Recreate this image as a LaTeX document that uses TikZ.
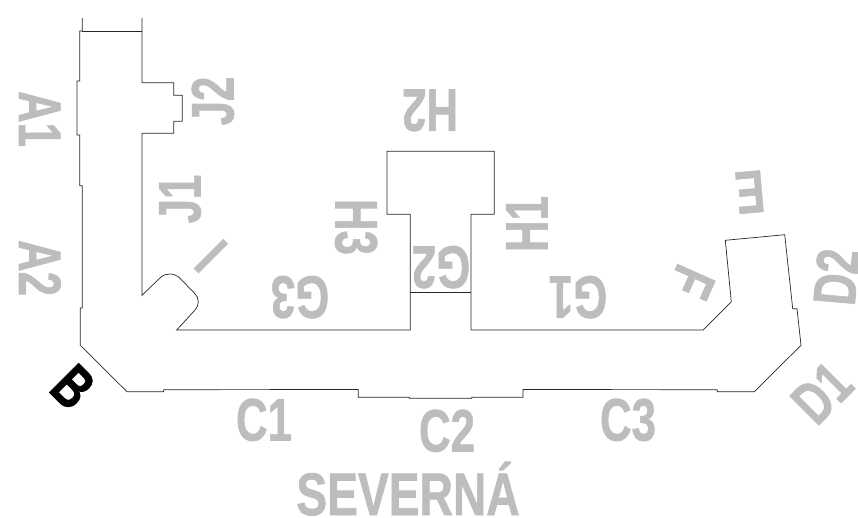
\documentclass[tikz,border=0pt]{standalone}
\usepackage{fontspec}
\usepackage{graphicx}
\setmainfont{Liberation Sans}
\newfontfamily\labfont[FakeBold=1.2]{Liberation Sans Bold}
\definecolor{labelgray}{HTML}{BDBDBD}
\newcommand{\narrowtxt}[1]{\scalebox{0.73}[1]{#1}}
\tikzset{
  lab/.style={font=\labfont\fontsize{60}{60}\selectfont, text=labelgray, inner sep=0pt, outer sep=0pt, text height=41pt, text depth=0pt, anchor=center},
  wall/.style={draw=black!85, line width=0.7pt, line join=miter}
}
\begin{document}
\begin{tikzpicture}[x=1pt,y=-1pt]
\useasboundingbox (0,0) rectangle (858,517);
\draw[wall] (82.3,18) -- (82.3,31) -- (79.7,31) -- (79.7,81) -- (77,81) -- (77,135) -- (79.7,135) -- (79.7,185.7) -- (82.3,185.7)
  -- (82.3,308) -- (80.3,308) -- (80.3,345.3) -- (127,391.7) -- (163.7,391.7) -- (163.7,389.7) -- (358.3,389.5) -- (358.3,397.3)
  -- (409.3,397.3) -- (409.3,398.3) -- (471.7,398.3) -- (471.7,397.3) -- (523,397.3) -- (523,389.5) -- (717.3,389.7) -- (717.3,391.7)
  -- (754.3,391.7) -- (801,345.3) -- (797,308.7) -- (792.7,308.7) -- (784.7,234.7) -- (725.3,240.3) -- (731.3,301.7) -- (703,330)
  -- (471,330) -- (471,214.3) -- (494.3,214.3) -- (494.3,151.3) -- (387,151.3) -- (387,214.3) -- (410.3,214.3) -- (410.3,330)
  -- (176.7,330) -- (195,310) .. controls (199.5,305.5) and (199.5,297.5) .. (194.3,293) -- (180,278.3)
  .. controls (174,272.5) and (165.5,272.5) .. (160,278) -- (142,295.3) -- (142,133.3) -- (173.7,133.3) -- (173.7,121.3) -- (182.3,121.3)
  -- (182.3,95.3) -- (173.7,95.3) -- (173.7,82.7) -- (142,82.7) -- (142,18);
\coordinate (topL) at (82.3,31);
\coordinate (topR) at (142,31);
\draw[wall] (topL) -- (topR);
\coordinate (gL) at (410.3,292);
\coordinate (gR) at (471,292);
\draw[wall] (gL) -- (gR);
\node[lab,rotate=-90] (a1) at (39.5,119) {\narrowtxt{A1}};
\node[lab,rotate=-90] (a2) at (39.5,268) {\narrowtxt{A2}};
\node[lab,rotate=-45,text=black] (b) at (73,387) {\narrowtxt{B}};
\node[lab] (c1) at (264,420) {\narrowtxt{C1}};
\node[lab] (c2) at (447,431) {\narrowtxt{C2}};
\node[lab] (c3) at (628,420) {\narrowtxt{C3}};
\node[lab,rotate=45] (d1) at (822,393) {\narrowtxt{D1}};
\node[lab,rotate=85] (d2) at (836.5,277) {\narrowtxt{D2}};
\node[lab,rotate=185] (e) at (750,192) {\narrowtxt{E}};
\node[lab,rotate=246] (f) at (692,282) {\narrowtxt{F}};
\node[lab,rotate=180] (g1) at (578,297) {\narrowtxt{G1}};
\node[lab,rotate=180] (g2) at (441,267) {\narrowtxt{G2}};
\node[lab,rotate=180] (g3) at (300,297) {\narrowtxt{G3}};
\node[lab,rotate=90] (h1) at (527,224) {\narrowtxt{H1}};
\node[lab,rotate=180] (h2) at (430,110) {\narrowtxt{H2}};
\node[lab,rotate=-90] (h3) at (356,227) {\narrowtxt{H3}};
\node[lab,rotate=135] (i) at (211,256) {\narrowtxt{I}};
\node[lab,rotate=90] (j1) at (180,199) {\narrowtxt{J1}};
\node[lab,rotate=90] (j2) at (213,101) {\narrowtxt{J2}};
\node[lab] (sev) at (408,494.5) {\scalebox{0.77}[1]{SEVERNÁ}};
\end{tikzpicture}
\end{document}
